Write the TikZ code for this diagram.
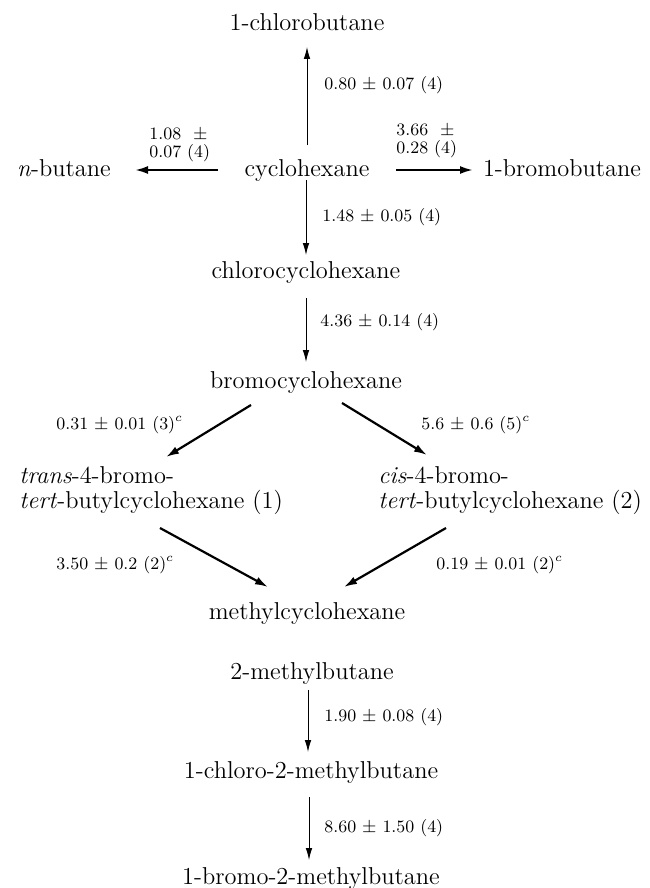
\documentclass[tikz,border=0pt]{standalone}
\usetikzlibrary{arrows.meta}
\begin{document}
\begin{tikzpicture}[x=0.5pt,y=-0.5pt,
  chem/.style={inner sep=0pt, font=\fontsize{12.2}{13}\selectfont, text height=8.5pt, text depth=2.5pt},
  chemml/.style={inner sep=0pt, font=\fontsize{12.2}{12.5}\selectfont, align=left, anchor=north west},
  rate/.style={inner sep=0pt, anchor=west, font=\fontsize{8.7}{8.7}\selectfont, align=left},
  thinarr/.style={line width=0.45pt, -{Latex[length=6pt,width=3.3pt]}},
  boldarr/.style={line width=1.1pt, -{Latex[length=6.5pt,width=4pt]}}]
\useasboundingbox (0,0) rectangle (649,888);

% compounds
\node[chem] (clbut) at (307,25) {1-chlorobutane};
\node[chem] (cyc) at (307,170) {cyclohexane};
\node[chem] (nbut) at (64,170) {\textit{n}-butane};
\node[chem] (brbut) at (562,170) {1-bromobutane};
\node[chem] (clcyc) at (306,272) {chlorocyclohexane};
\node[chem] (brcyc) at (306,382) {bromocyclohexane};
\node[chemml] (trans) at (19,466) {\textit{trans}-4-bromo-\\\textit{tert}-butylcyclohexane (1)};
\node[chemml] (cis) at (378,466) {\textit{cis}-4-bromo-\\\textit{tert}-butylcyclohexane (2)};
\node[chem] (mecyc) at (307,613) {methylcyclohexane};
\node[chem] (mebut) at (312,673) {2-methylbutane};
\node[chem] (clmb) at (311,772) {1-chloro-2-methylbutane};
\node[chem] (brmb) at (311,878) {1-bromo-2-methylbutane};

% rate labels
\node[rate] (r1) at (324,85) {0.80 $\pm$ 0.07 (4)};
\node[rate] (r2) at (149,145) {1.08 \ $\pm$\\0.07 (4)};
\node[rate] (r3) at (396,141) {3.66 \ $\pm$\\0.28 (4)};
\node[rate] (r4) at (322,217) {1.48 $\pm$ 0.05 (4)};
\node[rate] (r5) at (320,322) {4.36 $\pm$ 0.14 (4)};
\node[rate] (r6) at (56,425) {0.31 $\pm$ 0.01 (3)$^{c}$};
\node[rate] (r7) at (421,425) {5.6 $\pm$ 0.6 (5)$^{c}$};
\node[rate] (r8) at (56,565) {3.50 $\pm$ 0.2 (2)$^{c}$};
\node[rate] (r9) at (436,565) {0.19 $\pm$ 0.01 (2)$^{c}$};
\node[rate] (r10) at (324,717) {1.90 $\pm$ 0.08 (4)};
\node[rate] (r11) at (324,828) {8.60 $\pm$ 1.50 (4)};

% arrows
\draw[thinarr] ([shift={(0,-25)}]cyc.center) -- ([shift={(0,22)}]clbut.center);
\draw[boldarr] ([shift={(-89,0)}]cyc.center) -- ([shift={(71,0)}]nbut.center);
\draw[boldarr] ([shift={(89,0)}]cyc.center) -- ([shift={(-89,0)}]brbut.center);
\draw[thinarr] ([shift={(-1,10)}]cyc.center) -- ([shift={(0,-17)}]clcyc.center);
\draw[thinarr] ([shift={(0,26)}]clcyc.center) -- ([shift={(0,-20)}]brcyc.center);
\draw[boldarr] ([shift={(-55,23)}]brcyc.center) -- ([shift={(147,-9)}]trans.north west);
\draw[boldarr] ([shift={(36,21)}]brcyc.center) -- ([shift={(49,-11)}]cis.north west);
\draw[boldarr] ([shift={(141,62)}]trans.north west) -- ([shift={(-39,-26)}]mecyc.center);
\draw[boldarr] ([shift={(68,62)}]cis.north west) -- ([shift={(37,-26)}]mecyc.center);
\draw[thinarr] ([shift={(-4,17)}]mebut.center) -- ([shift={(-3,-20)}]clmb.center);
\draw[thinarr] ([shift={(-2,25)}]clmb.center) -- ([shift={(-2,-18)}]brmb.center);
\end{tikzpicture}
\end{document}
